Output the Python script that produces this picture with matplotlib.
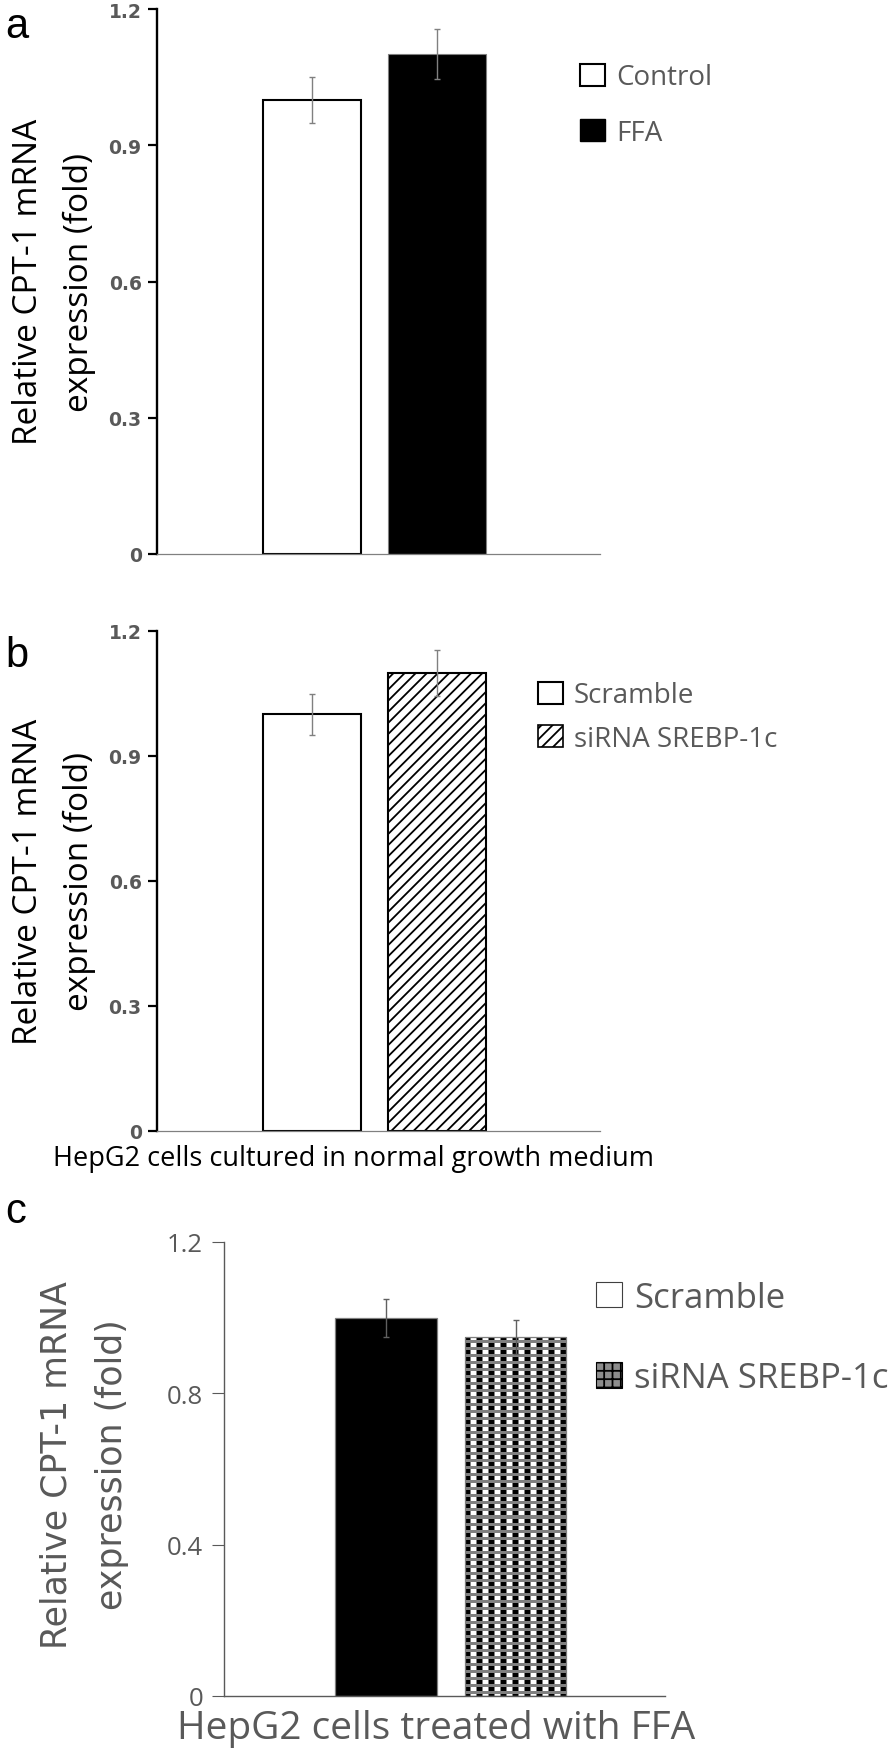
import numpy as np
import matplotlib
matplotlib.use('Agg')  # no display

import matplotlib.pyplot as plt
from matplotlib.patches import Patch

plt.rcParams['font.family'] = ['Open Sans', 'DejaVu Sans']
plt.rcParams['hatch.linewidth'] = 1.3

W, H, DPI = 896, 1749, 100
GRAY = '#595959'

# --- data ---
groups_a = ['Control', 'FFA']
vals_a = [1.00, 1.10]
err_a = [0.05, 0.055]

groups_b = ['Scramble', 'siRNA SREBP-1c']
vals_b = [1.00, 1.10]
err_b = [0.05, 0.055]

groups_c = ['Scramble', 'siRNA SREBP-1c']
vals_c = [1.00, 0.95]
err_c = [0.05, 0.045]

yticks_ab = [0, 0.3, 0.6, 0.9, 1.2]
yticklabels_ab = ['0', '0.3', '0.6', '0.9', '1.2']
yticks_c = [0, 0.4, 0.8, 1.2]
yticklabels_c = ['0', '0.4', '0.8', '1.2']

ylabel_text = 'Relative CPT-1 mRNA\nexpression (fold)'
xlabel_b = 'HepG2 cells cultured in normal growth medium'
xlabel_c = 'HepG2 cells treated with FFA'


def fx(px):
    return px / W


def fy(py):
    return 1 - py / H


def axes_px(fig, left, right, top, bottom):
    return fig.add_axes([fx(left), fy(bottom), (right - left) / W, (bottom - top) / H])


def style_ab(ax):
    ax.set_xlim(-1.24, 2.304)
    ax.set_ylim(0, 1.2)
    ax.spines['top'].set_visible(False)
    ax.spines['right'].set_visible(False)
    ax.spines['left'].set_linewidth(1.7)
    ax.spines['left'].set_color('black')
    ax.spines['bottom'].set_linewidth(0.9)
    ax.spines['bottom'].set_color('#808080')
    ax.set_xticks([])
    ax.set_yticks(yticks_ab, yticklabels_ab, fontweight='bold',
                  fontfamily='DejaVu Sans', fontsize=13.5, color=GRAY)
    ax.tick_params(axis='y', length=6.5, width=1.6, pad=4.5, color='black')


def checker_texture(h, w):
    # small black / white squares on a grey grid
    tile = np.full((7, 12), 0.5)
    tile[0:4, 0:5] = 0.0
    tile[0:4, 6:11] = 1.0
    tex = np.tile(tile, (h // 7 + 1, w // 12 + 1))
    return tex[:h, :w]


fig = plt.figure(figsize=(W / DPI, H / DPI), dpi=DPI)

# ---------------- panel a ----------------
ax_a = axes_px(fig, 157, 600, 10, 555)
xa = np.arange(len(vals_a))
ax_a.bar(xa, vals_a, width=0.784, color=['white', 'black'],
         edgecolor=['black', '#7f7f7f'], linewidth=[1.5, 0.8], zorder=2)
ax_a.errorbar(xa, vals_a, yerr=err_a, fmt='none', ecolor='#808080',
              elinewidth=1, capsize=2.5, capthick=1, zorder=3)
style_ab(ax_a)
handles_a = [Patch(facecolor='white', edgecolor='black', linewidth=1.5),
             Patch(facecolor='black', edgecolor='black')]
ax_a.legend(handles_a, groups_a, loc='center left',
            bbox_to_anchor=(fx(580), fy(106)), bbox_transform=fig.transFigure,
            frameon=False, fontsize=20, labelcolor=GRAY, handlelength=0.9,
            handleheight=0.85, handletextpad=0.4, labelspacing=0.98,
            borderpad=0, borderaxespad=0)
fig.text(fx(54), fy(282), ylabel_text, rotation=90, ha='center', va='center',
         fontsize=24, linespacing=1.7, color='black')
fig.text(fx(5), fy(38), 'a', fontsize=30, family='Liberation Sans', va='baseline')

# ---------------- panel b ----------------
ax_b = axes_px(fig, 157, 600, 632, 1132)
xb = np.arange(len(vals_b))
ax_b.bar(xb, vals_b, width=0.784, color='white', edgecolor='black',
         linewidth=1.5, hatch=['', '///'], zorder=2)
ax_b.errorbar(xb, vals_b, yerr=err_b, fmt='none', ecolor='#808080',
              elinewidth=1, capsize=2.5, capthick=1, zorder=3)
style_ab(ax_b)
handles_b = [Patch(facecolor='white', edgecolor='black', linewidth=1.5),
             Patch(facecolor='white', edgecolor='black', linewidth=1.2, hatch='///')]
ax_b.legend(handles_b, groups_b, loc='center left',
            bbox_to_anchor=(fx(538), fy(718)), bbox_transform=fig.transFigure,
            frameon=False, fontsize=20, labelcolor=GRAY, handlelength=0.9,
            handleheight=0.85, handletextpad=0.4, labelspacing=0.55,
            borderpad=0, borderaxespad=0)
fig.text(fx(54), fy(882), ylabel_text, rotation=90, ha='center', va='center',
         fontsize=24, linespacing=1.7, color='black')
fig.text(fx(353), fy(1166), xlabel_b, ha='center', va='baseline',
         fontsize=19.5, color='black')
fig.text(fx(5), fy(667), 'b', fontsize=30, family='Liberation Sans', va='baseline')

# ---------------- panel c ----------------
ax_c = axes_px(fig, 224, 665, 1243, 1697)
xc = np.arange(len(vals_c))
bars_c = ax_c.bar(xc, vals_c, width=0.785, color=['black', 'none'],
                  edgecolor='#7f7f7f', linewidth=0.9, zorder=2)
ax_c.errorbar(xc, vals_c, yerr=err_c, fmt='none', ecolor='#606060',
              elinewidth=1, capsize=2.5, capthick=1, zorder=3)
ax_c.set_xlim(-1.251, 2.154)
ax_c.set_ylim(0, 1.2)

# checkered fill for the siRNA bar, clipped to the bar itself
patch = bars_c[1]
x0, x1 = patch.get_x(), patch.get_x() + patch.get_width()
(p0x, p0y), (p1x, p1y) = ax_c.transData.transform([(x0, 0), (x1, patch.get_height())])
tex = checker_texture(int(round(p1y - p0y)), int(round(p1x - p0x)))
img = ax_c.imshow(tex, cmap='gray', vmin=0, vmax=1, interpolation='nearest',
                  extent=(x0, x1, 0, patch.get_height()), aspect='auto', zorder=1.9)
img.set_clip_path(patch)
ax_c.set_xlim(-1.251, 2.154)
ax_c.set_ylim(0, 1.2)

ax_c.spines['top'].set_visible(False)
ax_c.spines['right'].set_visible(False)
for s in ['left', 'bottom']:
    ax_c.spines[s].set_linewidth(1.0)
    ax_c.spines[s].set_color(GRAY)
ax_c.set_xticks([])
ax_c.set_yticks(yticks_c, yticklabels_c, fontsize=18.5, color=GRAY)
ax_c.tick_params(axis='y', length=8.6, width=0.8, pad=6.5, color=GRAY)

handles_c = [Patch(facecolor='white', edgecolor='#404040', linewidth=0.8),
             Patch(facecolor='#8c8c8c', edgecolor='black', linewidth=0.8, hatch='++')]
ax_c.legend(handles_c, groups_c, loc='center left',
            bbox_to_anchor=(fx(596), fy(1339)), bbox_transform=fig.transFigure,
            frameon=False, fontsize=25, labelcolor=GRAY, handlelength=0.75,
            handleheight=0.75, handletextpad=0.35, labelspacing=1.34,
            borderpad=0, borderaxespad=0)
fig.text(fx(84), fy(1465), ylabel_text, rotation=90, ha='center', va='center',
         fontsize=25, linespacing=1.78, color=GRAY, family='DejaVu Sans')
fig.text(fx(436), fy(1739), xlabel_c, ha='center', va='baseline',
         fontsize=28, color=GRAY)
fig.text(fx(5), fy(1223), 'c', fontsize=30, family='Liberation Sans', va='baseline')

fig.savefig('out.png', dpi=DPI, facecolor='white')
